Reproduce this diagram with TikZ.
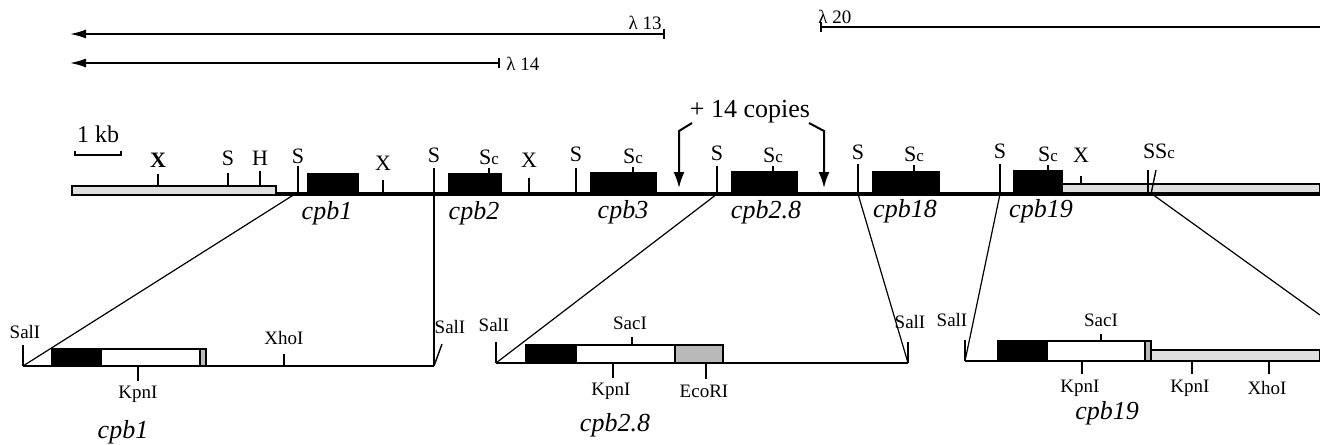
\documentclass[tikz,border=0pt]{standalone}
\usepackage{fontspec}
\setmainfont{Liberation Serif}
\usetikzlibrary{arrows.meta,positioning}
\tikzset{
	clone/.style={line width=0.8pt}, % lambda clones on top
	mapline/.style={line width=1.7pt},
	cut/.style={line width=1pt},
	thin cut/.style={line width=0.7pt},
	zoomline/.style={line width=0.6pt}, % lines from the map to the enlarged parts
	site/.style={font=\fontsize{11}{12}\selectfont, inner sep=0pt},
	enz/.style={font=\fontsize{9.5}{10}\selectfont, inner sep=0pt},
	gene/.style={font=\fontsize{13}{15}\selectfont\itshape, inner sep=0pt},
	exon/.style={draw=black, fill=black, line width=0.6pt},
	utr/.style={draw=black, fill=white, line width=0.6pt},
	flank/.style={draw=black, fill=gray!25, line width=0.6pt},
	dark/.style={draw=black, fill=gray!55, line width=0.6pt}
}
\newcommand{\Sc}{S{\fontsize{8.5}{9}\selectfont c}}

\begin{document}
\begin{tikzpicture}[x=0.5pt,y=-0.5pt]
	\useasboundingbox (0,0) rectangle (1320,444);
	% lambda clones
	\draw[clone,{Bar[width=5pt]}-{Latex[length=8pt,width=4.5pt]}] (665,34) -- (70,34);
	\node[enz, anchor=south east] (l13) at (662,30) {λ 13};
	\draw[clone,{Bar[width=5pt]}-{Latex[length=8pt,width=4.5pt]}] (500,63) -- (70,63);
	\node[enz, anchor=west] (l14) at (506,64) {λ 14};
	\draw[clone,{Bar[width=5pt]}-] (820,27) -- (1320,27);
	\node[enz, anchor=south west] (l20) at (818,24) {λ 20};
	% scale
	\node[site, font=\fontsize{12}{13}\selectfont] (kb) at (98,134) {1 kb};
	\draw[thin cut] (75,151) -- (75,155) -- (121,155) -- (121,151);
	% main map
	\draw[mapline] (72,194) -- (1320,194);
	\draw[flank] (72,186) rectangle (276,195);
	\draw[flank] (1062,184) rectangle (1320,194);
	\draw[mapline] (1062,194) -- (1320,194);
	\draw[exon] (308,174) rectangle (358,194);
	\draw[exon] (449,174) rectangle (501,194);
	\draw[exon] (591,173) rectangle (656,194);
	\draw[exon] (732,172) rectangle (797,194);
	\draw[exon] (873,172) rectangle (939,194);
	\draw[exon] (1014,171) rectangle (1062,194);
	\node[gene] (cpb1) at (327,213) {cpb1};
	\node[gene] (cpb2) at (474,213) {cpb2};
	\node[gene] (cpb3) at (623,212) {cpb3};
	\node[gene] (cpb28) at (766,212) {cpb2.8};
	\node[gene] (cpb18) at (905,211) {cpb18};
	\node[gene] (cpb19) at (1041,211) {cpb19};
	% sites on the map
	\draw[cut] (158,186) -- (158,174);
	\node[site] (x1) at (158,160) {\textbf{X}};
	\draw[cut] (228,186) -- (228,173);
	\node[site] (s1) at (228,158) {S};
	\draw[cut] (260,186) -- (260,171);
	\node[site] (h1) at (260,158) {H};
	\draw[cut] (298,194) -- (298,166);
	\node[site] (s2) at (298,156) {S};
	\draw[cut] (383,194) -- (383,180);
	\node[site] (x2) at (383,163) {X};
	\draw[cut] (434,194) -- (434,168);
	\node[site] (s3) at (434,155) {S};
	\draw[thin cut] (489,174) -- (489,168);
	\node[site] (sc1) at (489,157) {\Sc};
	\draw[cut] (529,194) -- (529,178);
	\node[site] (x3) at (529,160) {X};
	\draw[cut] (576,194) -- (576,168);
	\node[site] (s4) at (576,154) {S};
	\draw[thin cut] (633,173) -- (633,167);
	\node[site] (sc2) at (633,156) {\Sc};
	\draw[cut] (717,194) -- (717,166);
	\node[site] (s5) at (717,153) {S};
	\draw[thin cut] (773,172) -- (773,166);
	\node[site] (sc3) at (773,155) {\Sc};
	\draw[cut] (858,194) -- (858,164);
	\node[site] (s6) at (858,152) {S};
	\draw[thin cut] (914,172) -- (914,165);
	\node[site] (sc4) at (914,154) {\Sc};
	\draw[cut] (1000,194) -- (1000,164);
	\node[site] (s7) at (1000,151) {S};
	\draw[thin cut] (1048,171) -- (1048,165);
	\node[site] (sc5) at (1048,154) {\Sc};
	\draw[cut] (1081,184) -- (1081,176);
	\node[site] (x4) at (1081,155) {X};
	\draw[line width=1.3pt] (1148,194) -- (1148,170);
	\draw[thin cut] (1151,194) -- (1156,170);
	\node[site] (ssc) at (1159,151) {S\Sc};
	% repeat copies
	\node[font=\fontsize{13}{15}\selectfont, inner sep=0pt] (copies) at (750,112) {+ 14 copies};
	\draw[cut,-{Latex[length=8pt,width=5.5pt]}] (692,123) -- (679,131) -- (679,188);
	\draw[cut,-{Latex[length=8pt,width=5.5pt]}] (809,123) -- (824,131) -- (824,188);
	% cpb1 enlarged
	\draw[cut] (23,366) -- (434,366);
	\draw[thin cut] (23,366) -- (23,345);
	\node[enz] (sal1) at (25,332) {SalI};
	\draw[exon] (52,349) rectangle (101,366);
	\draw[utr] (101,349) rectangle (200,366);
	\draw[dark] (200,349) rectangle (206,366);
	\draw[thin cut] (138,366) -- (138,381);
	\node[enz] (kpn1) at (138,394) {KpnI};
	\draw[thin cut] (284,366) -- (284,354);
	\node[enz] (xho1) at (284,338) {XhoI};
	\draw[thin cut] (434,366) -- (442,344);
	\node[enz] (sal2) at (450,327) {SalI};
	\node[gene] (low1) at (123,432) {cpb1};
	\draw[zoomline] (23,366) -- (295,194);
	\draw[zoomline] (434,366) -- (434,194);
	% cpb2.8 enlarged
	\draw[cut] (496,363) -- (908,363);
	\draw[thin cut] (496,363) -- (496,342);
	\node[enz] (sal3) at (494,325) {SalI};
	\draw[exon] (526,345) rectangle (576,363);
	\draw[utr] (576,345) rectangle (675,363);
	\draw[dark] (675,345) rectangle (723,363);
	\draw[thin cut] (632,345) -- (632,337);
	\node[enz] (sac1) at (630,323) {SacI};
	\draw[thin cut] (613,363) -- (613,378);
	\node[enz] (kpn2) at (611,391) {KpnI};
	\draw[thin cut] (706,363) -- (706,379);
	\node[enz] (eco1) at (704,391) {EcoRI};
	\draw[thin cut] (908,363) -- (908,342);
	\node[enz] (sal4) at (910,322) {SalI};
	\node[gene] (low2) at (615,425) {cpb2.8};
	\draw[zoomline] (496,363) -- (717,194);
	\draw[zoomline] (908,363) -- (858,194);
	% cpb19 enlarged
	\draw[cut] (965,361) -- (1320,361);
	\draw[flank] (1151,350) rectangle (1320,361);
	\draw[cut] (1151,361) -- (1320,361);
	\draw[thin cut] (965,361) -- (965,340);
	\node[enz] (sal5) at (952,320) {SalI};
	\draw[exon] (998,341) rectangle (1047,361);
	\draw[utr] (1047,341) rectangle (1145,361);
	\draw[dark] (1145,341) rectangle (1151,361);
	\draw[thin cut] (1101,341) -- (1101,334);
	\node[enz] (sac2) at (1101,320) {SacI};
	\draw[thin cut] (1082,361) -- (1082,374);
	\node[enz] (kpn3) at (1080,388) {KpnI};
	\draw[thin cut] (1192,361) -- (1192,374);
	\node[enz] (kpn4) at (1190,388) {KpnI};
	\draw[thin cut] (1269,361) -- (1269,374);
	\node[enz] (xho2) at (1267,388) {XhoI};
	\node[gene] (low3) at (1107,413) {cpb19};
	\draw[zoomline] (965,361) -- (1000,194);
	\draw[zoomline] (1152,194) -- (1320,315);
\end{tikzpicture}
\end{document}
